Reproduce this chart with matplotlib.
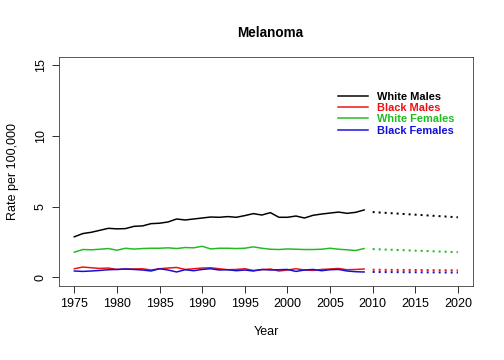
import numpy as np
import matplotlib.pyplot as plt

plt.rcParams['font.family'] = ['Liberation Sans', 'DejaVu Sans']

years = np.arange(1975, 2010)
proj_years = [2010, 2020]

white_males = [2.87, 3.10, 3.19, 3.33, 3.47, 3.43, 3.45, 3.61, 3.64, 3.80,
               3.83, 3.92, 4.13, 4.06, 4.13, 4.20, 4.27, 4.25, 4.30, 4.25,
               4.37, 4.51, 4.41, 4.58, 4.25, 4.25, 4.34, 4.20, 4.39, 4.48,
               4.55, 4.62, 4.53, 4.60, 4.77]
black_males = [0.61, 0.73, 0.68, 0.63, 0.66, 0.56, 0.59, 0.59, 0.61, 0.52,
               0.61, 0.66, 0.70, 0.56, 0.61, 0.66, 0.68, 0.61, 0.54, 0.56,
               0.61, 0.49, 0.54, 0.59, 0.45, 0.52, 0.61, 0.52, 0.49, 0.56,
               0.59, 0.63, 0.54, 0.56, 0.59]
white_females = [1.78, 1.97, 1.95, 1.99, 2.04, 1.92, 2.06, 2.00, 2.04, 2.06,
                 2.06, 2.09, 2.04, 2.11, 2.09, 2.20, 2.01, 2.06, 2.06, 2.04,
                 2.06, 2.16, 2.06, 1.99, 1.97, 2.01, 1.99, 1.97, 1.97, 1.99,
                 2.06, 1.99, 1.95, 1.90, 2.04]
black_females = [0.45, 0.42, 0.45, 0.49, 0.54, 0.56, 0.59, 0.56, 0.52, 0.45,
                 0.61, 0.52, 0.38, 0.54, 0.47, 0.56, 0.61, 0.52, 0.54, 0.47,
                 0.52, 0.45, 0.56, 0.52, 0.54, 0.56, 0.42, 0.52, 0.56, 0.47,
                 0.54, 0.56, 0.45, 0.40, 0.38]

wm_proj = [4.62, 4.25]
bm_proj = [0.54, 0.50]
wf_proj = [2.00, 1.78]
bf_proj = [0.38, 0.34]

labels = ['White Males', 'Black Males', 'White Females', 'Black Females']
colors = ['black', '#ee1111', '#22bb22', '#1010dd']

fig = plt.figure(figsize=(7, 5), dpi=72)
ax = fig.add_axes([0.117, 0.206, 0.822, 0.636])

series = [white_males, black_males, white_females, black_females]
projs = [wm_proj, bm_proj, wf_proj, bf_proj]
for s, p, lab, col in zip(series, projs, labels, colors):
    ax.plot(years, s, color=col, lw=1.5, label=lab)
    ax.plot(proj_years, p, color=col, lw=2, linestyle=(0, (1, 2)))

ax.set_xlim(1973.2, 2021.8)
ax.set_ylim(-0.6, 15.6)
ax.set_xticks(np.arange(1975, 2021, 5))
ax.set_yticks([0, 5, 10, 15])
ax.tick_params(labelsize=12.5, length=7, width=0.8, pad=5)
plt.setp(ax.get_yticklabels(), rotation=90, va='center')
for sp in ax.spines.values():
    sp.set_linewidth(0.8)
    sp.set_color('#333333')

ax.set_xlabel('Year', fontsize=12.5, labelpad=16)
ax.set_ylabel('Rate per 100,000', fontsize=12.5, labelpad=16)
fig.text(0.537, 0.908, 'Melanoma', ha='center', va='center',
         fontsize=13.5, fontweight='bold')

leg = ax.legend(loc='upper left', bbox_to_anchor=(0.66, 0.872), frameon=False,
                prop={'weight': 'bold', 'size': 11}, handlelength=2.7,
                handletextpad=0.9, labelspacing=0.12, borderpad=0)
for txt, col in zip(leg.get_texts(), colors):
    txt.set_color(col)

plt.savefig('out.png', dpi=72)
